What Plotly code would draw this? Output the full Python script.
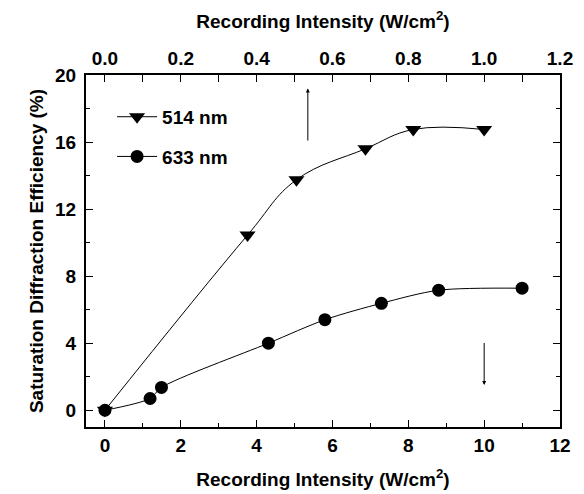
import plotly.graph_objects as go

# Data
x_514 = [0.0, 0.376, 0.505, 0.687, 0.813, 1.0]   # top axis (W/cm^2)
y_514 = [0.0, 10.45, 13.75, 15.6, 16.75, 16.75]
x_633 = [0.0, 1.19, 1.49, 4.31, 5.8, 7.29, 8.8, 11.0]  # bottom axis
y_633 = [0.0, 0.7, 1.36, 4.0, 5.4, 6.38, 7.16, 7.28]

FONT = "Liberation Sans, Arial, sans-serif"

fig = go.Figure()
fig.add_trace(go.Scatter(
    x=x_514, y=y_514, xaxis="x2", yaxis="y", name="<b>514 nm</b>",
    mode="lines+markers", line=dict(color="black", width=1, shape="spline", smoothing=1.15),
    marker=dict(symbol="triangle-down", size=14, color="black"),
    legendgroup="a",
))
fig.add_trace(go.Scatter(
    x=x_633, y=y_633, xaxis="x", yaxis="y", name="<b>633 nm</b>",
    mode="lines+markers", line=dict(color="black", width=1, shape="spline", smoothing=0.8),
    marker=dict(symbol="circle", size=13, color="black"),
    legendgroup="b",
))

tickfont = dict(family=FONT, size=19, color="black")
titlefont = dict(family=FONT, size=19, color="black")

fig.update_layout(
    width=576, height=486,
    margin=dict(l=78, r=24, t=67, b=67),
    plot_bgcolor="white", paper_bgcolor="white",
    showlegend=True,
    legend=dict(x=0.055, y=0.935, xanchor="left", yanchor="top", itemwidth=40,
                font=dict(family=FONT, size=19, color="black"),
                bgcolor="rgba(0,0,0,0)", traceorder="grouped", tracegroupgap=12),
    xaxis=dict(
        range=[-0.5, 12], tickmode="linear", tick0=0, dtick=2, automargin=False,
        ticks="inside", ticklen=7, tickwidth=1, tickcolor="black",
        minor=dict(ticks="inside", ticklen=4, dtick=1, tick0=0, tickcolor="black"),
        showline=True, linecolor="black", linewidth=2, mirror=False,
        showgrid=False, zeroline=False,
        tickfont=tickfont, tickprefix="<b>", ticksuffix="</b>",
        title=dict(text="<b>Recording Intensity (W/cm<sup>2</sup>)</b>", font=titlefont, standoff=18),
    ),
    xaxis2=dict(
        range=[-0.05, 1.2], overlaying="x", side="top", anchor="y", automargin=False,
        tickmode="linear", tick0=0, dtick=0.2, tickformat=".1f",
        ticks="inside", ticklen=7, tickwidth=1, tickcolor="black",
        minor=dict(ticks="inside", ticklen=7, dtick=0.1, tick0=0, tickcolor="black"),
        showline=True, linecolor="black", linewidth=2,
        showgrid=False, zeroline=False,
        tickfont=tickfont, tickprefix="<b>", ticksuffix="</b>",
        title=dict(text="<b>Recording Intensity (W/cm<sup>2</sup>)</b>", font=titlefont, standoff=15),
    ),
    yaxis=dict(
        range=[-1, 20], tickmode="linear", tick0=0, dtick=4, automargin=False,
        ticks="inside", ticklen=7, tickwidth=1, tickcolor="black",
        minor=dict(ticks="inside", ticklen=4, dtick=2, tick0=0, tickcolor="black"),
        showline=True, linecolor="black", linewidth=2, mirror="ticks",
        showgrid=False, zeroline=False, ticklabelstandoff=4,
        tickfont=tickfont, tickprefix="<b>", ticksuffix="</b>",
        title=dict(text="<b>Saturation Diffraction Efficiency (%)</b>", font=titlefont, standoff=6),
    ),
)

# Arrows indicating axis association
fig.add_annotation(x=5.35, y=19.2, ax=5.35, ay=16.0, xref="x", yref="y", axref="x", ayref="y",
                   showarrow=True, arrowhead=2, arrowsize=0.8, arrowwidth=1, arrowcolor="black", text="")
fig.add_annotation(x=10.0, y=1.5, ax=10.0, ay=4.1, xref="x", yref="y", axref="x", ayref="y",
                   showarrow=True, arrowhead=2, arrowsize=0.8, arrowwidth=1, arrowcolor="black", text="")

fig.write_html("out.html")
